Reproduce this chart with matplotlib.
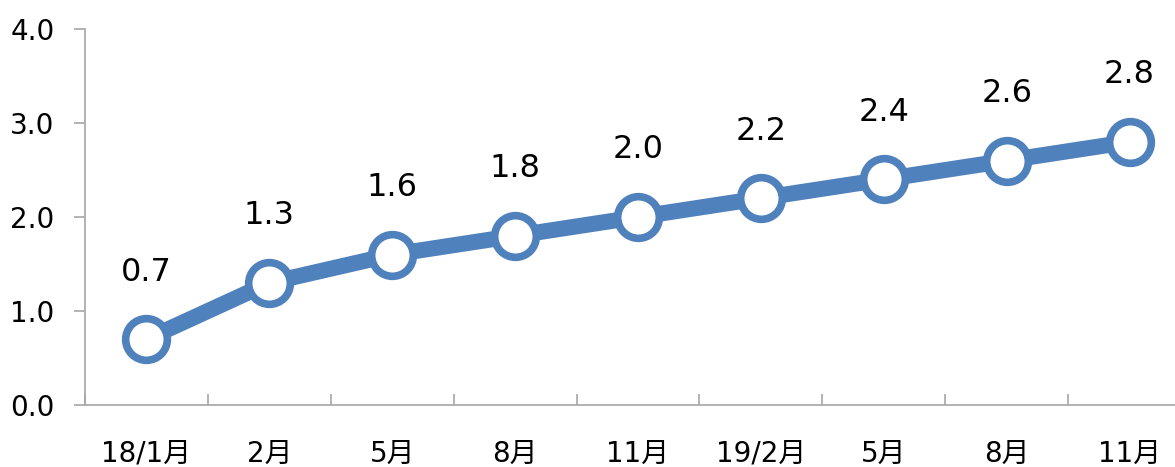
import numpy as np
import matplotlib
matplotlib.use('Agg')
import matplotlib.pyplot as plt

plt.rcParams['font.family'] = ['DejaVu Sans', 'Noto Sans CJK JP']

labels = ['18/1月', '2月', '5月', '8月', '11月', '19/2月', '5月', '8月', '11月']
values = [0.7, 1.3, 1.6, 1.8, 2.0, 2.2, 2.4, 2.6, 2.8]

blue = '#4F81BD'
grey = '#A6A6A6'

fig = plt.figure(figsize=(11.75, 4.67), dpi=100)
ax = fig.add_axes([85 / 1175, 62 / 467, (1191 - 85) / 1175, (405 - 29) / 467])

x = np.arange(len(values))
ax.plot(x, values, color=blue, lw=11.5, marker='o', ms=30,
        mfc='white', mec=blue, mew=5.5, solid_capstyle='butt', zorder=3, clip_on=False)

for xi, v in zip(x, values):
    ax.annotate(f'{v:.1f}', (xi, v), xytext=(0, 67), textcoords='offset pixels',
                ha='center', va='center', fontsize=23)

ax.set_xlim(-0.5, len(values) - 0.5)
ax.set_ylim(0, 4)
ax.set_yticks(np.arange(0, 4.01, 1.0))
ax.set_yticklabels([f'{t:.1f}' for t in np.arange(0, 4.01, 1.0)])
ax.set_xticks(x)
ax.set_xticklabels(labels)
ax.set_xticks(np.arange(-0.5, len(values) - 0.5, 1.0), minor=True)

for s in ['top', 'right']:
    ax.spines[s].set_visible(False)
for s in ['left', 'bottom']:
    ax.spines[s].set_color(grey)
    ax.spines[s].set_linewidth(1.2)

ax.tick_params(axis='y', direction='out', length=8, width=1.2, color=grey,
               pad=14, labelsize=20)
ax.tick_params(axis='x', which='major', length=0, pad=25, labelsize=20)
ax.tick_params(axis='x', which='minor', direction='in', length=8, width=1.2, color=grey)

plt.savefig('out.png', dpi=100)
